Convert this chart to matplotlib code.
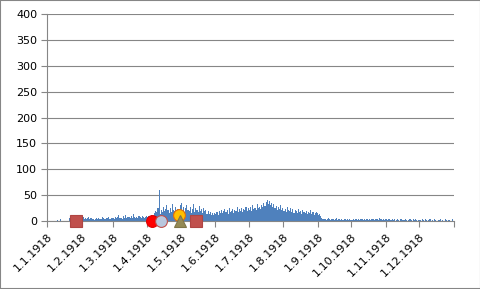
import numpy as np
import pandas as pd
import matplotlib
matplotlib.use("Agg")
import matplotlib.pyplot as plt
import matplotlib.dates as mdates
from matplotlib.ticker import FuncFormatter

# daily values 1918, one list per month
jan = [0, 0, 0, 0, 0, 0, 0, 0, 0, 2, 0, 0, 3, 0, 0, 0, 0, 0, 0, 0, 5, 0, 0, 0, 0, 0, 0, 0, 3, 4, 6]
feb = [5, 7, 4, 6, 3, 5, 8, 4, 5, 3, 4, 2, 3, 5, 4, 6, 3, 4, 7, 5, 3, 4, 6, 5, 8, 4, 5, 6]
mar = [6, 4, 8, 5, 7, 12, 5, 6, 4, 9, 6, 11, 5, 7, 8, 6, 10, 5, 13, 7, 6, 8, 5, 9, 7, 6, 10, 8, 5, 7, 9]
apr = [8, 10, 6, 12, 7, 9, 15, 20, 18, 25, 60, 14, 22, 17, 28, 19, 24, 30, 21, 16, 26, 18, 33, 22, 20, 28, 17, 24, 19, 30]
may = [35, 20, 28, 18, 25, 31, 22, 19, 27, 15, 24, 33, 18, 26, 21, 17, 29, 20, 23, 16, 25, 19, 22, 14, 20, 13, 18, 11, 15, 12, 16]
jun = [14, 18, 12, 20, 16, 22, 15, 19, 23, 17, 21, 14, 25, 18, 20, 24, 16, 22, 19, 27, 17, 23, 20, 26, 18, 24, 21, 28, 19, 25]
jul = [22, 27, 20, 30, 24, 26, 21, 33, 25, 28, 23, 31, 27, 34, 29, 36, 41, 33, 38, 30, 35, 27, 32, 25, 29, 22, 27, 24, 30, 21, 26]
aug = [20, 24, 18, 28, 22, 19, 25, 17, 23, 16, 21, 19, 15, 24, 18, 20, 14, 22, 17, 15, 19, 13, 18, 16, 21, 14, 17, 12, 16, 18, 15]
sep = [12, 14, 9, 6, 4, 3, 4, 2, 3, 5, 3, 2, 4, 3, 2, 3, 5, 2, 4, 3, 2, 3, 2, 4, 3, 2, 3, 2, 3, 2]
oct_ = [2, 3, 2, 4, 3, 2, 3, 2, 3, 4, 2, 3, 2, 3, 4, 2, 3, 2, 4, 3, 2, 3, 4, 3, 2, 5, 3, 2, 3, 2, 3]
nov = [3, 2, 4, 3, 2, 3, 2, 3, 0, 2, 3, 2, 0, 3, 2, 1, 2, 3, 2, 0, 2, 3, 2, 0, 4, 2, 3, 2, 0, 2]
dec = [2, 0, 3, 2, 0, 4, 2, 0, 2, 3, 0, 2, 0, 3, 2, 0, 0, 2, 3, 0, 2, 0, 0, 3, 2, 0, 2, 0, 0, 3, 0]

values = jan + feb + mar + apr + may + jun + jul + aug + sep + oct_ + nov + dec
days = pd.date_range("1918-01-01", periods=len(values), freq="D")

# event markers: date, value, marker, face, edge
ev_dates = ["1918-01-27", "1918-04-05", "1918-04-13", "1918-04-29", "1918-04-30", "1918-05-15"]
ev_values = [0, 0, 0, 12, 0, 0]
ev_markers = ["s", "o", "o", "o", "^", "s"]
ev_faces = ["#C0504D", "#FF0000", "#B9C7DE", "#FFC000", "#948A54", "#C0504D"]
ev_edges = ["#B04543", "#E00000", "#C0504D", "#E46C0A", "#7F7548", "#B04543"]

fig = plt.figure(figsize=(4.81, 2.89), dpi=100)
ax = fig.add_axes([47 / 481, 1 - 221 / 289, (454 - 47) / 481, (221 - 14) / 289])

ax.bar(days, values, width=1.0, align="edge", color="#4F81BD", linewidth=0, zorder=2)

for d, v, m, fc, ec in zip(ev_dates, ev_values, ev_markers, ev_faces, ev_edges):
    ax.plot(pd.Timestamp(d), v, marker=m, markersize=8.5, markerfacecolor=fc,
            markeredgecolor=ec, markeredgewidth=0.8, linestyle="none", zorder=4,
            clip_on=False)

ax.set_ylim(0, 400)
ax.set_yticks(range(0, 401, 50))
ax.set_xlim(pd.Timestamp("1918-01-01"), pd.Timestamp("1919-01-01"))
ticks = list(pd.date_range("1918-01-01", "1919-01-01", freq="MS"))
ax.set_xticks(ticks)
ax.xaxis.set_major_formatter(FuncFormatter(
    lambda x, pos: "" if pos == 12 else
    f"{mdates.num2date(x).day}.{mdates.num2date(x).month}.{mdates.num2date(x).year}"))

ax.grid(axis="y", color="#868686", linewidth=0.8, zorder=0)
for s in ["top", "right"]:
    ax.spines[s].set_visible(False)
for s in ["left", "bottom"]:
    ax.spines[s].set_color("#868686")
    ax.spines[s].set_zorder(3)
ax.tick_params(axis="both", colors="#868686", length=4, width=0.8, labelsize=8,
               labelcolor="black")
ax.tick_params(axis="y", pad=3)
plt.setp(ax.get_xticklabels(), rotation=45, ha="right", rotation_mode="anchor")

fig.patches.append(plt.Rectangle((0, 0), 1, 1, transform=fig.transFigure,
                                 fill=False, edgecolor="#868686", linewidth=1.5))

fig.savefig("out.png", dpi=100)
